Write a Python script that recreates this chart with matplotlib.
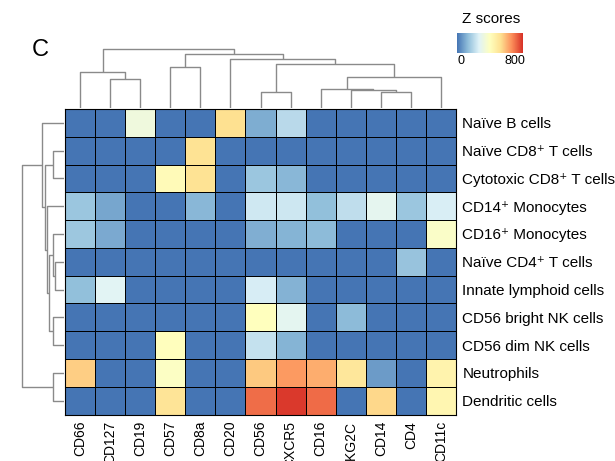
import numpy as np
import matplotlib
matplotlib.use("Agg")
import matplotlib.pyplot as plt
from matplotlib.colors import LinearSegmentedColormap

plt.rcParams['font.family'] = ['Liberation Sans', 'DejaVu Sans']

markers = ["CD66", "CD127", "CD19", "CD57", "CD8a", "CD20", "CD56",
           "CXCR5", "CD16", "NKG2C", "CD14", "CD4", "CD11c"]
cell_types = ["Naïve B cells", "Naïve CD8⁺ T cells", "Cytotoxic CD8⁺ T cells",
              "CD14⁺ Monocytes", "CD16⁺ Monocytes", "Naïve CD4⁺ T cells",
              "Innate lymphoid cells", "CD56 bright NK cells", "CD56 dim NK cells",
              "Neutrophils", "Dendritic cells"]

# z scores, rows = cell types, cols = markers (clustered order)
z_naive_b     = [0,   0,   330, 0,   0,   530, 100, 200, 0,   0,   0,   0,   0]
z_naive_cd8   = [0,   0,   0,   0,   520, 0,   0,   0,   0,   0,   0,   0,   0]
z_cyto_cd8    = [0,   0,   0,   420, 520, 0,   150, 120, 0,   0,   0,   0,   0]
z_cd14_mono   = [150, 90,  0,   0,   120, 0,   240, 235, 135, 210, 290, 150, 255]
z_cd16_mono   = [155, 95,  0,   0,   0,   0,   105, 115, 125, 0,   0,   0,   380]
z_naive_cd4   = [0,   0,   0,   0,   0,   0,   0,   0,   0,   0,   0,   145, 0]
z_ilc         = [135, 275, 0,   0,   0,   0,   250, 110, 0,   0,   0,   0,   0]
z_cd56_bright = [0,   0,   0,   0,   0,   0,   400, 285, 0,   125, 0,   0,   0]
z_cd56_dim    = [0,   0,   0,   405, 0,   0,   220, 115, 0,   0,   0,   0,   0]
z_neutrophils = [560, 0,   0,   390, 0,   0,   570, 645, 615, 500, 70,  0,   450]
z_dendritic   = [0,   0,   0,   515, 0,   0,   710, 785, 715, 0,   545, 0,   440]

# linkage: (left, right, height); ids >= n refer to earlier merges
col_links = [(1, 2, 28.7), (0, 13, 36.3), (3, 4, 40.7), (6, 7, 16.3),
             (10, 11, 16.3), (9, 17, 18.0), (8, 18, 19.0), (19, 12, 31.3),
             (16, 20, 43.7), (5, 21, 49.0), (15, 22, 54.0), (14, 23, 59.0)]
row_links = [(5, 6, 9.0), (4, 11, 10.7), (7, 8, 11.3), (12, 13, 14.7),
             (3, 14, 17.3), (1, 2, 10.7), (16, 15, 19.0), (0, 17, 22.3),
             (9, 10, 10.7), (18, 19, 42.3)]

palette = ["#4575B4", "#91BFDB", "#E0F3F8", "#FFFFBF", "#FEE090", "#FC8D59", "#D73027"]
cmap = LinearSegmentedColormap.from_list("zs", palette)
vmin, vmax = 0, 800

W, H = 615, 461


def px_axes(fig, x0, y0, x1, y1):
    # pixel box (top-left origin) -> figure axes
    return fig.add_axes([x0 / W, 1 - y1 / H, (x1 - x0) / W, (y1 - y0) / H])


def draw_tree(ax, links, n, side):
    pos = {i: i + 0.5 for i in range(n)}
    hgt = {i: 0.0 for i in range(n)}
    for k, (a, b, h) in enumerate(links):
        xs = [pos[a], pos[a], pos[b], pos[b]]
        ys = [hgt[a], h, h, hgt[b]]
        if side == "top":
            ax.plot(xs, ys, color="#8a8a8a", lw=1.0, solid_capstyle="butt")
        else:
            ax.plot(ys, xs, color="#8a8a8a", lw=1.0, solid_capstyle="butt")
        pos[n + k] = (pos[a] + pos[b]) / 2
        hgt[n + k] = h


data = np.array([z_naive_b, z_naive_cd8, z_cyto_cd8, z_cd14_mono, z_cd16_mono,
                 z_naive_cd4, z_ilc, z_cd56_bright, z_cd56_dim, z_neutrophils,
                 z_dendritic])

fig = plt.figure(figsize=(W / 100, H / 100), dpi=100)

# heatmap
ax = px_axes(fig, 65, 109, 456, 414.5)
ax.pcolormesh(data, cmap=cmap, vmin=vmin, vmax=vmax, edgecolors="black", linewidth=0.7)
ax.set_xlim(0, len(markers))
ax.set_ylim(len(cell_types), 0)
ax.set_xticks(np.arange(len(markers)) + 0.5)
ax.set_xticklabels(markers, rotation=90, fontsize=10)
ax.set_yticks(np.arange(len(cell_types)) + 0.5)
ax.set_yticklabels(cell_types, fontsize=11)
ax.yaxis.tick_right()
ax.tick_params(axis="x", length=0, pad=4.5)
ax.tick_params(axis="y", length=0, pad=4.5)
for s in ax.spines.values():
    s.set_linewidth(0.8)

# column dendrogram
axt = px_axes(fig, 65, 48, 456, 108)
draw_tree(axt, col_links, len(markers), "top")
axt.set_xlim(0, len(markers))
axt.set_ylim(0, 60)
axt.axis("off")

# row dendrogram
axl = px_axes(fig, 4, 109, 64, 414.5)
draw_tree(axl, row_links, len(cell_types), "left")
axl.set_xlim(60, 0)
axl.set_ylim(len(cell_types), 0)
axl.axis("off")

# colour key
axc = px_axes(fig, 457, 33, 523, 53)
axc.imshow(np.linspace(vmin, vmax, 256)[None, :], cmap=cmap, aspect="auto",
           extent=[-52, 926, 0, 1])
axc.set_xlim(-52, 926)
axc.set_xticks([0, 800])
axc.set_xticklabels(["0", "800"], fontsize=9)
axc.tick_params(axis="x", length=0, pad=1.5)
axc.set_yticks([])
for s in axc.spines.values():
    s.set_visible(False)
fig.text(491 / W, 1 - 19 / H, "Z scores", fontsize=11, ha="center", va="center")

fig.text(40 / W, 1 - 50 / H, "C", fontsize=17, ha="center", va="center")

fig.savefig("out.png", dpi=100)
